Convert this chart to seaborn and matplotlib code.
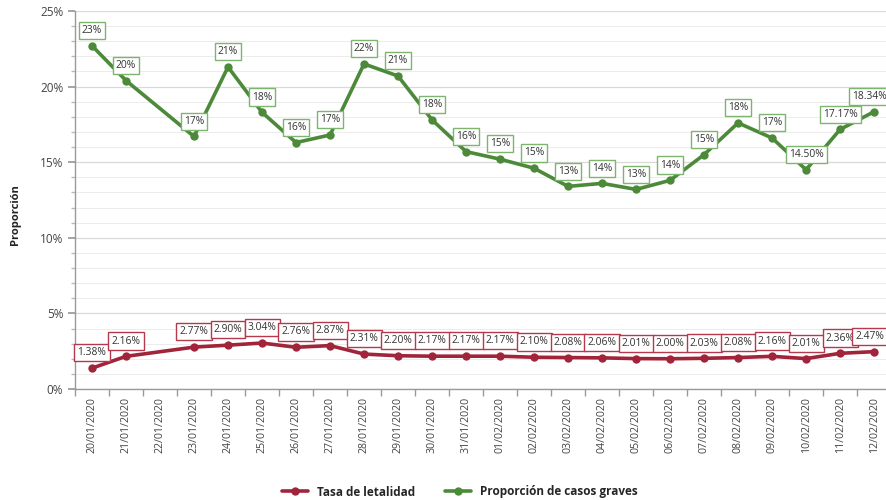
import matplotlib
matplotlib.use("Agg")
import matplotlib.pyplot as plt
import matplotlib.ticker as mticker
import numpy as np
import pandas as pd
import seaborn as sns

# categories (22/01 has no data for either series)
dates = ["20/01/2020", "21/01/2020", "22/01/2020", "23/01/2020", "24/01/2020",
         "25/01/2020", "26/01/2020", "27/01/2020", "28/01/2020", "29/01/2020",
         "30/01/2020", "31/01/2020", "01/02/2020", "02/02/2020", "03/02/2020",
         "04/02/2020", "05/02/2020", "06/02/2020", "07/02/2020", "08/02/2020",
         "09/02/2020", "10/02/2020", "11/02/2020", "12/02/2020"]

letalidad = [1.38, 2.16, None, 2.77, 2.90, 3.04, 2.76, 2.87, 2.31, 2.20, 2.17,
             2.17, 2.17, 2.10, 2.08, 2.06, 2.01, 2.00, 2.03, 2.08, 2.16, 2.01,
             2.36, 2.47]
letalidad_labels = ["1.38%", "2.16%", None, "2.77%", "2.90%", "3.04%", "2.76%",
                    "2.87%", "2.31%", "2.20%", "2.17%", "2.17%", "2.17%", "2.10%",
                    "2.08%", "2.06%", "2.01%", "2.00%", "2.03%", "2.08%", "2.16%",
                    "2.01%", "2.36%", "2.47%"]

graves = [22.7, 20.4, None, 16.7, 21.3, 18.3, 16.3, 16.8, 21.5, 20.7, 17.8,
          15.7, 15.2, 14.6, 13.4, 13.6, 13.2, 13.8, 15.5, 17.6, 16.6, 14.50,
          17.17, 18.34]
graves_labels = ["23%", "20%", None, "17%", "21%", "18%", "16%", "17%", "22%",
                 "21%", "18%", "16%", "15%", "15%", "13%", "14%", "13%", "14%",
                 "15%", "18%", "17%", "14.50%", "17.17%", "18.34%"]

series_names = ["Tasa de letalidad", "Proporción de casos graves"]
colors = {"Tasa de letalidad": "#A2243A", "Proporción de casos graves": "#4C8A3A"}
box_edges = {"Tasa de letalidad": "#B5394D", "Proporción de casos graves": "#7DB56F"}

rows = []
for i, d in enumerate(dates):
    for name, vals, labs in [(series_names[0], letalidad, letalidad_labels),
                             (series_names[1], graves, graves_labels)]:
        if vals[i] is not None:
            rows.append({"pos": i, "fecha": d, "serie": name,
                         "valor": vals[i], "etiqueta": labs[i]})
df = pd.DataFrame(rows)

sns.set_theme(style="white")
plt.rcParams["font.family"] = ["Open Sans", "DejaVu Sans"]

fig = plt.figure(figsize=(8.86, 5.0), dpi=100)
ax = fig.add_axes([75 / 886, 111 / 500, 811 / 886, 378 / 500])

sns.lineplot(data=df, x="pos", y="valor", hue="serie", hue_order=series_names,
             palette=colors, marker="o", markersize=6, markeredgewidth=0,
             linewidth=2.6, ax=ax, sort=True, legend=False)

last = len(dates) - 1
for _, r in df.iterrows():
    dx = -3 if r["pos"] == last else 0
    ax.annotate(r["etiqueta"], (r["pos"], r["valor"]), xytext=(dx, 11),
                textcoords="offset points", ha="center", va="center",
                fontsize=7.4, color="#333333",
                bbox=dict(boxstyle="square,pad=0.3", fc="white",
                          ec=box_edges[r["serie"]], lw=1.0))

ax.set_xlim(-0.5, 23.35)
ax.set_ylim(0, 25)
ax.set_xticks(range(len(dates)))
ax.set_xticklabels(dates, rotation=90, fontsize=7.7, color="#444444")
ax.xaxis.set_minor_locator(mticker.FixedLocator(np.arange(-0.5, 24, 1)))
ax.tick_params(axis="x", which="major", length=0, pad=6)
ax.tick_params(axis="x", which="minor", length=5, color="#999999", bottom=True)

ax.yaxis.set_major_locator(mticker.MultipleLocator(5))
ax.yaxis.set_minor_locator(mticker.MultipleLocator(1))
ax.yaxis.set_major_formatter(mticker.FuncFormatter(lambda v, p: f"{v:.0f}%"))
ax.tick_params(axis="y", which="major", length=5, color="#999999",
               labelsize=8.5, labelcolor="#444444", left=True)
ax.tick_params(axis="y", which="minor", length=3, color="#bbbbbb", left=True)

ax.grid(axis="y", which="major", color="#d9d9d9", lw=0.9)
ax.grid(axis="y", which="minor", color="#ececec", lw=0.7)
ax.set_axisbelow(True)

for s in ["top", "right"]:
    ax.spines[s].set_visible(False)
for s in ["left", "bottom"]:
    ax.spines[s].set_color("#999999")
    ax.spines[s].set_linewidth(1.0)

ax.set_xlabel("")
ax.set_ylabel("")
fig.text(15 / 886, 1 - 215 / 500, "Proporción", rotation=90, ha="center",
         va="center", fontsize=8, fontweight="bold", color="#222222")

handles = [ax.lines[0], ax.lines[1]]
fig.legend(handles, series_names, loc="center",
           bbox_to_anchor=(460 / 886, 1 - 492 / 500), bbox_transform=fig.transFigure,
           borderaxespad=0.0, ncol=2, frameon=False, handlelength=2.2,
           columnspacing=2.5, prop={"weight": "bold", "size": 8.5})

fig.savefig("out.png", dpi=100)
